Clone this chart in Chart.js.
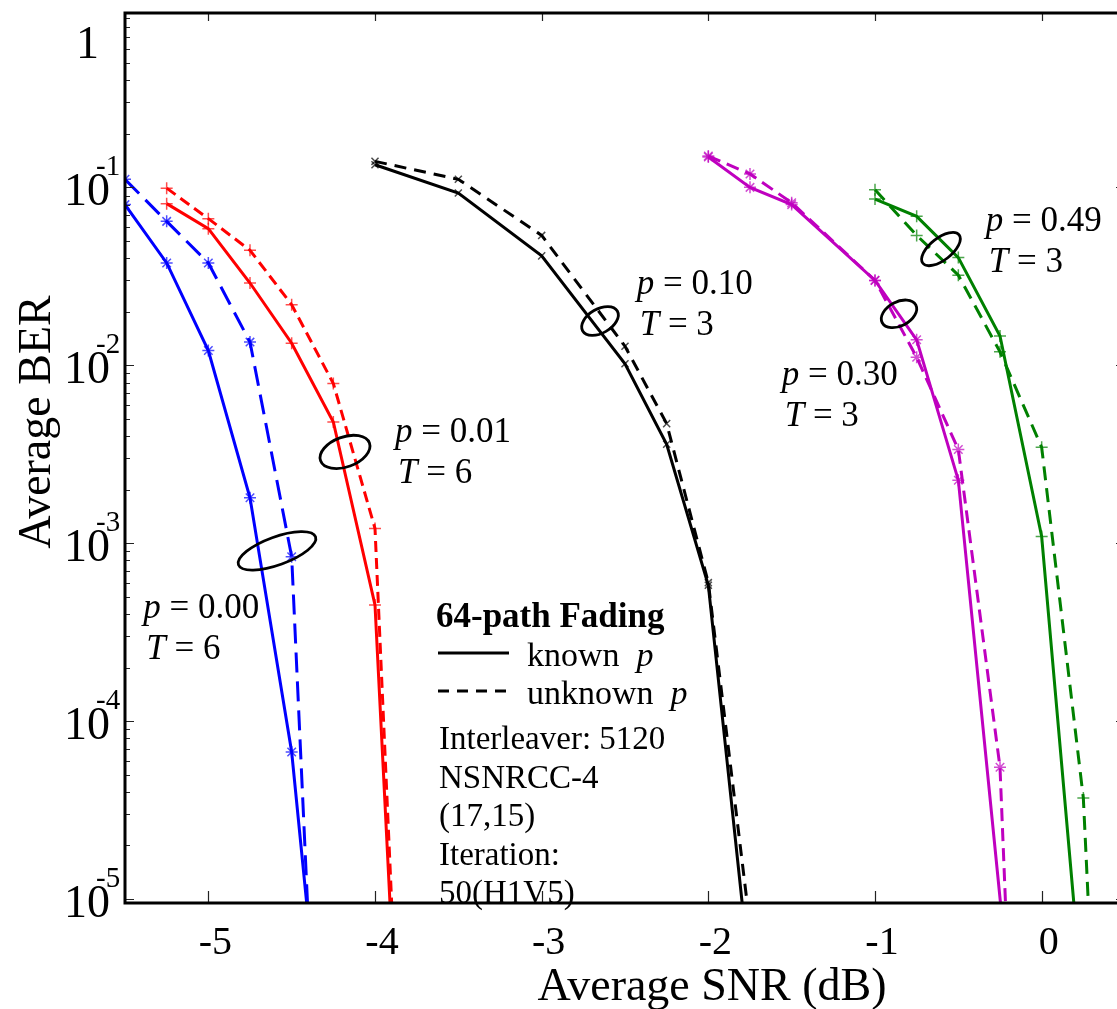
<!DOCTYPE html>
<html>
<head>
<meta charset="utf-8">
<script src="https://cdn.jsdelivr.net/npm/chart.js@4.4.1/dist/chart.umd.min.js"></script>
<style>
  html, body { margin: 0; padding: 0; overflow: hidden; background: #fff; }
  canvas { display: block; }
</style>
</head>
<body>
<canvas id="berChart" width="1117" height="1009"></canvas>
<script>
// axis limits (the right edge of the figure is cut just before the right axis)
const SNR_MIN = -5.5, SNR_MAX = 0.452;
const BER_MIN = 0.95e-5, BER_MAX = 0.955;

const X_TICKS = [-5, -4, -3, -2, -1, 0];
const X_TICK_LABELS = ['-5', '-4', '-3', '-2', '-1', '0'];
const Y_TICKS = [1e-5, 1e-4, 1e-3, 1e-2, 1e-1];
const Y_TICK_EXPONENTS = ['-5', '-4', '-3', '-2', '-1'];

// p = 0.00, T = 6 (last point = where the curve leaves the plot)
const snrP000Known = [-5.5, -5.25, -5.0, -4.75, -4.5, -4.41];
const berP000Known = [0.080, 0.0376, 0.0121, 1.8e-3, 6.7e-5, BER_MIN];
const snrP000Unknown = [-5.5, -5.25, -5.0, -4.75, -4.5, -4.405];
const berP000Unknown = [0.111, 0.0644, 0.0376, 0.0135, 8.4e-4, BER_MIN];

// p = 0.01, T = 6
const snrP001Known = [-5.25, -5.0, -4.75, -4.5, -4.25, -4.0, -3.91];
const berP001Known = [0.081, 0.0586, 0.029, 0.0133, 4.8e-3, 4.5e-4, BER_MIN];
const snrP001Unknown = [-5.25, -5.0, -4.75, -4.5, -4.25, -4.0, -3.90];
const berP001Unknown = [0.099, 0.0667, 0.0443, 0.0219, 7.9e-3, 1.21e-3, BER_MIN];

// p = 0.10, T = 3
const snrP010Known = [-4.0, -3.5, -3.0, -2.5, -2.25, -2.0, -1.797];
const berP010Known = [0.134, 0.093, 0.0412, 0.0102, 3.6e-3, 5.8e-4, BER_MIN];
const snrP010Unknown = [-4.0, -3.5, -3.0, -2.5, -2.25, -2.0, -1.767];
const berP010Unknown = [0.140, 0.111, 0.0537, 0.0128, 4.7e-3, 6.0e-4, BER_MIN];

// p = 0.30, T = 3
const snrP030Known = [-2.0, -1.75, -1.5, -1.0, -0.75, -0.5, -0.247];
const berP030Known = [0.148, 0.100, 0.080, 0.030, 0.0139, 2.26e-3, BER_MIN];
const snrP030Unknown = [-2.0, -1.75, -1.5, -1.0, -0.75, -0.5, -0.25, -0.217];
const berP030Unknown = [0.150, 0.119, 0.082, 0.030, 0.0111, 3.36e-3, 5.5e-5, BER_MIN];

// p = 0.49, T = 3
const snrP049Known = [-1.0, -0.75, -0.5, -0.25, 0.0, 0.193];
const berP049Known = [0.086, 0.0687, 0.0403, 0.0146, 1.09e-3, BER_MIN];
const snrP049Unknown = [-1.0, -0.75, -0.5, -0.25, 0.0, 0.25, 0.28];
const berP049Unknown = [0.097, 0.0537, 0.0321, 0.0119, 3.46e-3, 3.7e-5, BER_MIN];

// curve labels: text anchor (SNR, BER) of the first line
const curveLabels = [
    { p: '0.00', T: '6', snr: -5.39, ber: Math.pow(10, -3.42) },
    { p: '0.01', T: '6', snr: -3.88, ber: Math.pow(10, -2.431) },
    { p: '0.10', T: '3', snr: -2.43, ber: Math.pow(10, -1.599) },
    { p: '0.30', T: '3', snr: -1.56, ber: Math.pow(10, -2.110) },
    { p: '0.49', T: '3', snr: -0.335, ber: Math.pow(10, -1.246) },
];

// ellipses grouping each known/unknown pair
const groupRings = [
    { snr: -4.588, ber: Math.pow(10, -3.043), rx: 41, ry: 14, rot: -20 },
    { snr: -4.18, ber: Math.pow(10, -2.487), rx: 26, ry: 15, rot: -20 },
    { snr: -2.65, ber: Math.pow(10, -1.751), rx: 20, ry: 12, rot: -30 },
    { snr: -0.856, ber: Math.pow(10, -1.711), rx: 19, ry: 12, rot: -28 },
    { snr: -0.604, ber: Math.pow(10, -1.347), rx: 23, ry: 11, rot: -38 },
];

const infoLines = ['Interleaver: 5120', 'NSNRCC-4', '(17,15)', 'Iteration:', '50(H1V5)'];

const SERIF = '"Liberation Serif", "Times New Roman", serif';

function toPoints(xs, ys) {
    return xs.map((x, i) => ({ x: x, y: ys[i] }));
}

function fade(hex, a) {
    const n = parseInt(hex.slice(1), 16);
    return `rgba(${n >> 16}, ${(n >> 8) & 255}, ${n & 255}, ${a})`;
}

function series(label, xs, ys, color, marker, radius, dash) {
    return {
        label: label,
        data: toPoints(xs, ys),
        borderColor: color,
        borderWidth: 3,
        borderDash: dash,
        pointStyle: marker,
        pointRadius: (c) => (c.raw && c.raw.y <= BER_MIN ? 0 : radius),
        pointBorderColor: fade(color, 0.7),
        pointBorderWidth: 1.5,
        pointBackgroundColor: 'transparent',
        tension: 0,
        clip: 0,
    };
}

const overlay = {
    id: 'overlay',
    afterDatasetsDraw(chart) {
        const { ctx, chartArea: a, scales: { x, y } } = chart;
        ctx.save();
        ctx.fillStyle = '#000';
        ctx.strokeStyle = '#000';
        ctx.textBaseline = 'alphabetic';

        const runs = (px, py, parts, size) => {
            for (const [t, style] of parts) {
                ctx.font = `${style} ${size}px ${SERIF}`;
                ctx.fillText(t, px, py);
                px += ctx.measureText(t).width;
            }
        };

        // curve labels
        ctx.textAlign = 'left';
        curveLabels.forEach((l) => {
            const px = x.getPixelForValue(l.snr);
            const py = y.getPixelForValue(l.ber);
            runs(px, py, [['p', 'italic'], [' = ' + l.p, 'normal']], 35);
            runs(px + 3, py + 41, [['T', 'italic'], [' = ' + l.T, 'normal']], 35);
        });

        // rings
        ctx.lineWidth = 2.8;
        groupRings.forEach((r) => {
            ctx.beginPath();
            ctx.ellipse(x.getPixelForValue(r.snr), y.getPixelForValue(r.ber),
                r.rx, r.ry, r.rot * Math.PI / 180, 0, Math.PI * 2);
            ctx.stroke();
        });

        // line-style legend and simulation info
        ctx.font = `bold 35px ${SERIF}`;
        ctx.fillText('64-path Fading', 436, 627);
        ctx.lineWidth = 3;
        ctx.beginPath();
        ctx.moveTo(438, 653);
        ctx.lineTo(509, 653);
        ctx.stroke();
        ctx.setLineDash([11, 8]);
        ctx.beginPath();
        ctx.moveTo(438, 691);
        ctx.lineTo(509, 691);
        ctx.stroke();
        ctx.setLineDash([]);
        runs(527, 666, [['known  ', 'normal'], ['p', 'italic']], 34);
        runs(527, 704, [['unknown  ', 'normal'], ['p', 'italic']], 34);
        ctx.font = `33px ${SERIF}`;
        infoLines.forEach((t, i) => ctx.fillText(t, 439, 749 + i * 38.5));

        // ticks (right axis sits just outside the picture, only the tips show)
        ctx.lineWidth = 1.2;
        ctx.strokeStyle = '#222';
        ctx.beginPath();
        X_TICKS.forEach((v) => {
            const px = Math.round(x.getPixelForValue(v)) + 0.5;
            ctx.moveTo(px, a.bottom); ctx.lineTo(px, a.bottom - 12);
            ctx.moveTo(px, a.top); ctx.lineTo(px, a.top + 8);
        });
        for (let e = -5; e <= 0; e++) {
            for (let m = 1; m <= 9; m++) {
                const v = m * Math.pow(10, e);
                if (v < BER_MIN || v > BER_MAX) continue;
                const py = Math.round(y.getPixelForValue(v)) + 0.5;
                const len = m === 1 ? 9 : 5;
                ctx.moveTo(a.left, py); ctx.lineTo(a.left + len, py);
                ctx.moveTo(a.right + 8, py); ctx.lineTo(a.right + 8 - len, py);
            }
        }
        ctx.stroke();

        // frame
        ctx.strokeStyle = '#000';
        ctx.lineWidth = 3;
        ctx.beginPath();
        ctx.moveTo(a.right, a.top);
        ctx.lineTo(a.left, a.top);
        ctx.lineTo(a.left, a.bottom);
        ctx.lineTo(a.right, a.bottom);
        ctx.stroke();

        // x tick labels
        ctx.textAlign = 'center';
        ctx.font = `40px ${SERIF}`;
        X_TICKS.forEach((v, i) => {
            ctx.fillText(X_TICK_LABELS[i], x.getPixelForValue(v) + 7, 954);
        });

        // y tick labels as 10^k
        Y_TICKS.forEach((v, i) => {
            const py = y.getPixelForValue(v);
            ctx.textAlign = 'right';
            ctx.font = `46px ${SERIF}`;
            ctx.fillText('10', 110, py + 18);
            ctx.textAlign = 'left';
            ctx.font = `29px ${SERIF}`;
            ctx.fillText(Y_TICK_EXPONENTS[i], 96, py - 12);
        });
        ctx.textAlign = 'right';
        ctx.font = `46px ${SERIF}`;
        ctx.fillText('1', 99, 58);

        // axis titles
        ctx.textAlign = 'center';
        ctx.font = `46px ${SERIF}`;
        ctx.fillText('Average SNR (dB)', 712, 1000);
        ctx.save();
        ctx.translate(50, 422);
        ctx.rotate(-Math.PI / 2);
        ctx.fillText('Average BER', 0, 0);
        ctx.restore();

        ctx.restore();
    },
};

const ctx = document.getElementById('berChart').getContext('2d');
new Chart(ctx, {
    type: 'line',
    data: {
        datasets: [
            series('p=0.00 known', snrP000Known, berP000Known, '#0000FF', 'star', 6, []),
            series('p=0.00 unknown', snrP000Unknown, berP000Unknown, '#0000FF', 'star', 6, [20, 9]),
            series('p=0.01 known', snrP001Known, berP001Known, '#FF0000', 'cross', 6, []),
            series('p=0.01 unknown', snrP001Unknown, berP001Unknown, '#FF0000', 'cross', 6, [11, 6]),
            series('p=0.10 known', snrP010Known, berP010Known, '#000000', 'crossRot', 5, []),
            series('p=0.10 unknown', snrP010Unknown, berP010Unknown, '#000000', 'crossRot', 5, [12, 8]),
            series('p=0.30 known', snrP030Known, berP030Known, '#BF00BF', 'star', 6, []),
            series('p=0.30 unknown', snrP030Unknown, berP030Unknown, '#BF00BF', 'star', 6, [13, 7]),
            series('p=0.49 known', snrP049Known, berP049Known, '#008000', 'cross', 6, []),
            series('p=0.49 unknown', snrP049Unknown, berP049Unknown, '#008000', 'cross', 6, [14, 8]),
        ],
    },
    options: {
        responsive: false,
        animation: false,
        devicePixelRatio: 1,
        layout: {
            autoPadding: false,
            padding: { left: 125, top: 13, right: 0, bottom: 106 },
        },
        plugins: {
            legend: { display: false },
            tooltip: { enabled: false },
        },
        scales: {
            x: { type: 'linear', min: SNR_MIN, max: SNR_MAX, display: false },
            y: { type: 'logarithmic', min: BER_MIN, max: BER_MAX, display: false },
        },
    },
    plugins: [overlay],
});
</script>
</body>
</html>
